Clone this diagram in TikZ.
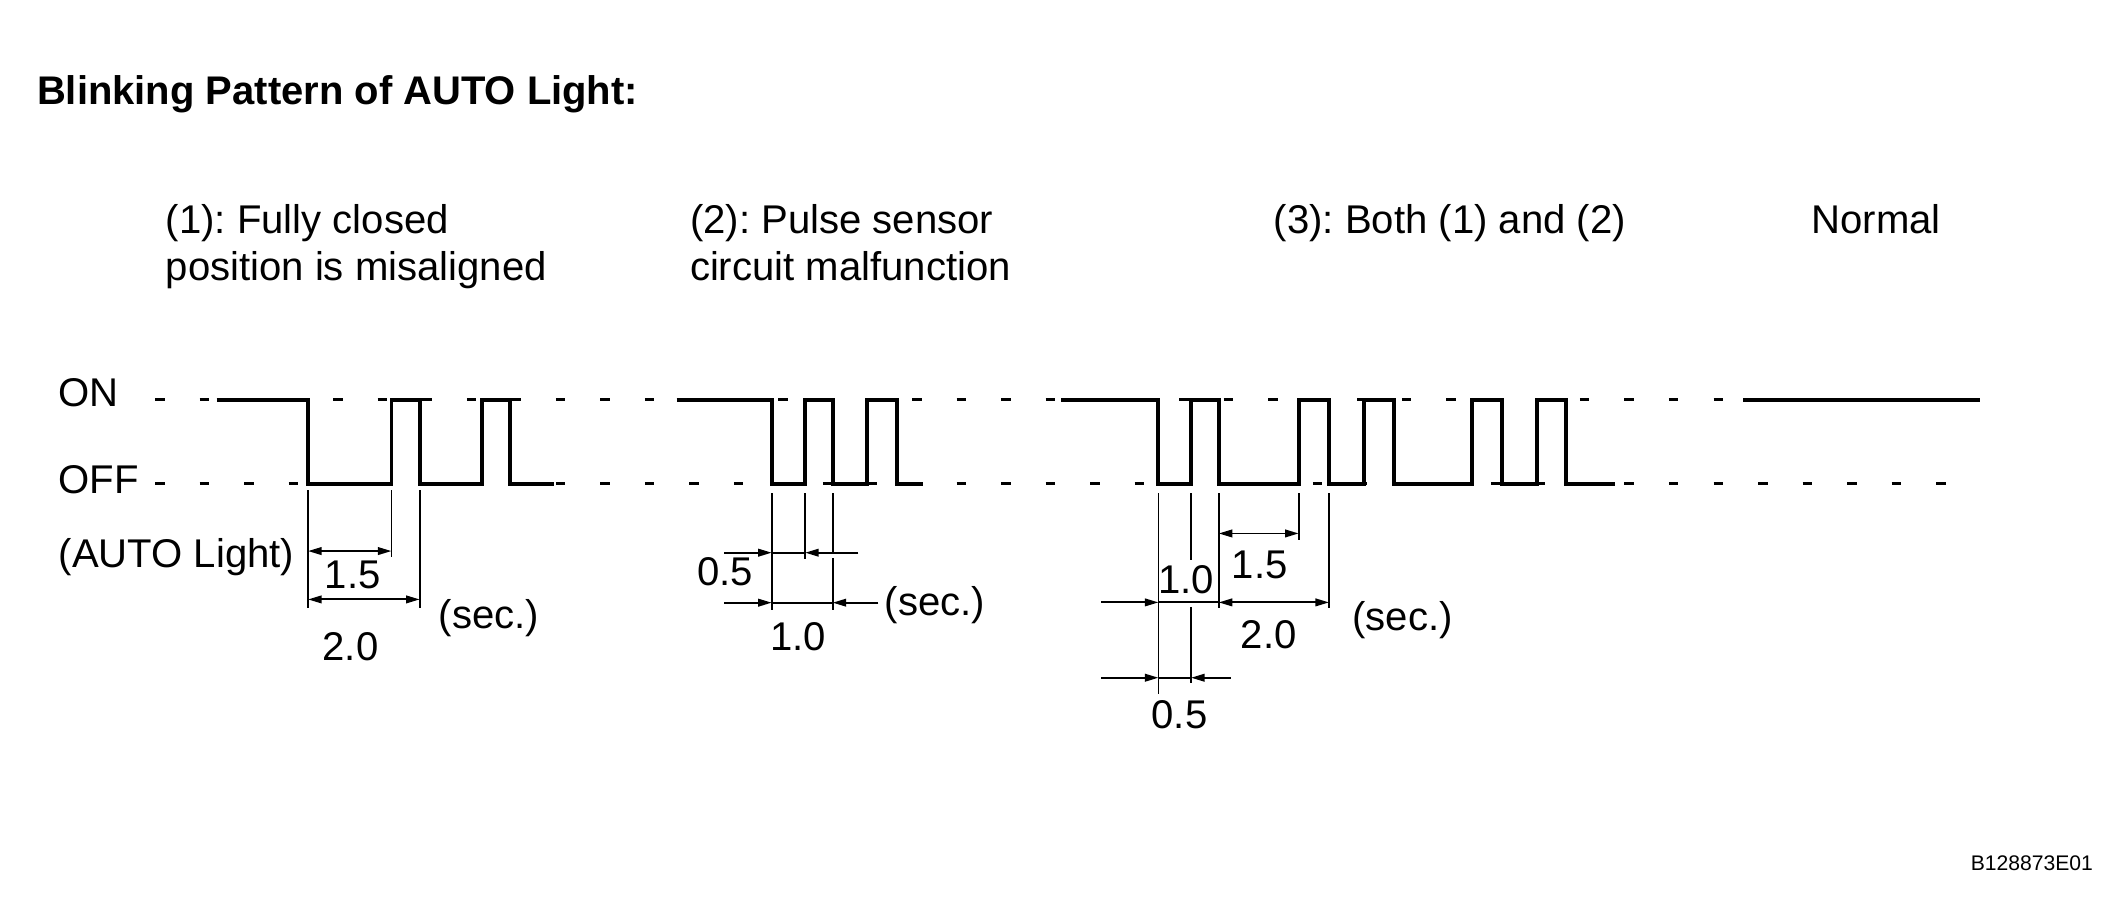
\documentclass[tikz,border=0pt]{standalone}
\usepackage{fontspec}
\setmainfont{Liberation Sans}
\usetikzlibrary{arrows.meta}
\frenchspacing
\begin{document}
\begin{tikzpicture}[x=0.5pt,y=-0.5pt,
  wave/.style={line width=1.45pt, line join=miter},
  gridline/.style={line width=1.1pt, dash pattern=on 3.5pt off 12.935pt},
  thinline/.style={line width=0.7pt},
  dimarr/.style={thinline, -{Triangle[length=5pt,width=2.8pt]}},
  dimboth/.style={thinline, {Triangle[length=5pt,width=2.8pt]}-{Triangle[length=5pt,width=2.8pt]}},
  lbl/.style={inner sep=0pt, font=\fontsize{14.8}{17}\selectfont},
  lblw/.style={lbl, anchor=base west},
  num/.style={lbl, anchor=center},
  titlestyle/.style={inner sep=0pt, anchor=base west, font=\fontsize{14.75}{17}\selectfont\bfseries},
  codestyle/.style={inner sep=0pt, anchor=center, font=\fontsize{7.8}{9}\selectfont}
]
\useasboundingbox (0,0) rectangle (1568,671);

% title and headings
\node[titlestyle] (title) at (27,77) {Blinking Pattern of AUTO Light:};
\node[lblw] (h1a) at (122,172) {(1): Fully closed};
\node[lblw] (h1b) at (122,207) {position is misaligned};
\node[lblw] (h2a) at (509,172) {(2): Pulse sensor};
\node[lblw] (h2b) at (509,207) {circuit malfunction};
\node[lblw] (h3) at (940,172) {(3): Both (1) and (2)};
\node[lblw] (h4) at (1337,172) {Normal};

% axis labels
\node[lblw] (on) at (43,300) {ON};
\node[lblw] (off) at (43,364) {OFF};
\node[lblw] (auto) at (43,419) {(AUTO Light)};

% dashed reference levels
\coordinate (onL) at (114.5,295);
\coordinate (onR) at (1436.3,295);
\coordinate (offL) at (114.5,357);
\coordinate (offR) at (1436.3,357);
\draw[gridline] (onL) -- (onR);
\draw[gridline] (offL) -- (offR);

% ---------- panel 1 ----------
\coordinate (a0) at (160,295);
\coordinate (a1) at (227.4,357);
\coordinate (a2) at (289,295);
\coordinate (a3) at (309.8,357);
\coordinate (a4) at (356,295);
\coordinate (a5) at (376.7,357);
\coordinate (a6) at (408.7,357);
\draw[wave] (a0) -| (a1) -| (a2) -| (a3) -| (a4) -| (a5) -- (a6);
\draw[thinline] (227.4,362) -- (227.4,449);
\draw[thinline] (289,362) -- (289,411);
\draw[thinline] (309.8,362) -- (309.8,449);
\draw[dimboth] (227.4,406.8) -- (289,406.8);
\draw[dimboth] (227.4,442.5) -- (309.8,442.5);
\node[num] (a15) at (260.4,424.5) {1.5};
\node[num] (a20) at (258.7,477.5) {2.0};
\node[num] (asec) at (361,456.5) {(sec.)};

% ---------- panel 2 ----------
\coordinate (b0) at (499.5,295);
\coordinate (b1) at (569.7,357);
\coordinate (b2) at (594.4,295);
\coordinate (b3) at (614.7,357);
\coordinate (b4) at (639.8,295);
\coordinate (b5) at (662,357);
\coordinate (b6) at (681.6,357);
\draw[wave] (b0) -| (b1) -| (b2) -| (b3) -| (b4) -| (b5) -- (b6);
\draw[thinline] (569.7,364) -- (569.7,450.3);
\draw[thinline] (594.4,364) -- (594.4,413);
\draw[thinline] (614.7,364) -- (614.7,408);
\draw[thinline] (614.7,412) -- (614.7,450.3);
\draw[dimarr] (534.5,408) -- (569.7,408);
\draw[thinline] (569.7,408) -- (594.4,408);
\draw[dimarr] (633.7,408) -- (594.4,408);
\draw[dimarr] (534.5,444.9) -- (569.7,444.9);
\draw[thinline] (569.7,444.9) -- (614.7,444.9);
\draw[dimarr] (648.4,444.9) -- (614.7,444.9);
\node[num] (b05) at (535.2,422) {0.5};
\node[num] (b10) at (589.4,470) {1.0};
\node[num] (bsec) at (690.2,447) {(sec.)};

% ---------- panel 3 ----------
\coordinate (c0) at (783.3,295);
\coordinate (c1) at (855.2,357);
\coordinate (c2) at (879.3,295);
\coordinate (c3) at (899.7,357);
\coordinate (c4) at (958.7,295);
\coordinate (c5) at (981.1,357);
\coordinate (c6) at (1006.8,295);
\coordinate (c7) at (1028.9,357);
\coordinate (c8) at (1086.6,295);
\coordinate (c9) at (1109,357);
\coordinate (c10) at (1134.4,295);
\coordinate (c11) at (1155.8,357);
\coordinate (c12) at (1192,357);
\draw[wave] (c0) -| (c1) -| (c2) -| (c3) -| (c4) -| (c5) -| (c6) -| (c7) -| (c8) -| (c9) -| (c10) -| (c11) -- (c12);
\draw[thinline] (855.2,364) -- (855.2,512);
\draw[thinline] (879.3,364) -- (879.3,413.5);
\draw[thinline] (879.3,448) -- (879.3,504.5);
\draw[thinline] (899.7,364) -- (899.7,449);
\draw[thinline] (958.7,364) -- (958.7,398.7);
\draw[thinline] (981.1,364) -- (981.1,449);
\draw[dimboth] (899.7,393.8) -- (958.7,393.8);
\draw[dimboth] (899.7,444.7) -- (981.1,444.7);
\draw[dimarr] (813,444.7) -- (855.2,444.7);
\draw[thinline] (855.2,444.7) -- (899.7,444.7);
\draw[dimarr] (813,500.3) -- (855.2,500.3);
\draw[thinline] (855.2,500.3) -- (879.3,500.3);
\draw[dimarr] (908.6,500.3) -- (879.3,500.3);
\node[num] (c10t) at (875.6,428.2) {1.0};
\node[num] (c15t) at (930,417) {1.5};
\node[num] (c20t) at (936.6,468.8) {2.0};
\node[num] (csec) at (1035.5,457.8) {(sec.)};
\node[num] (c05t) at (870.7,527.9) {0.5};

% ---------- normal ----------
\coordinate (n0) at (1287,295);
\coordinate (n1) at (1461.7,295);
\draw[wave] (n0) -- (n1);

\node[codestyle] (code) at (1500,637) {B128873E01};
\end{tikzpicture}
\end{document}
